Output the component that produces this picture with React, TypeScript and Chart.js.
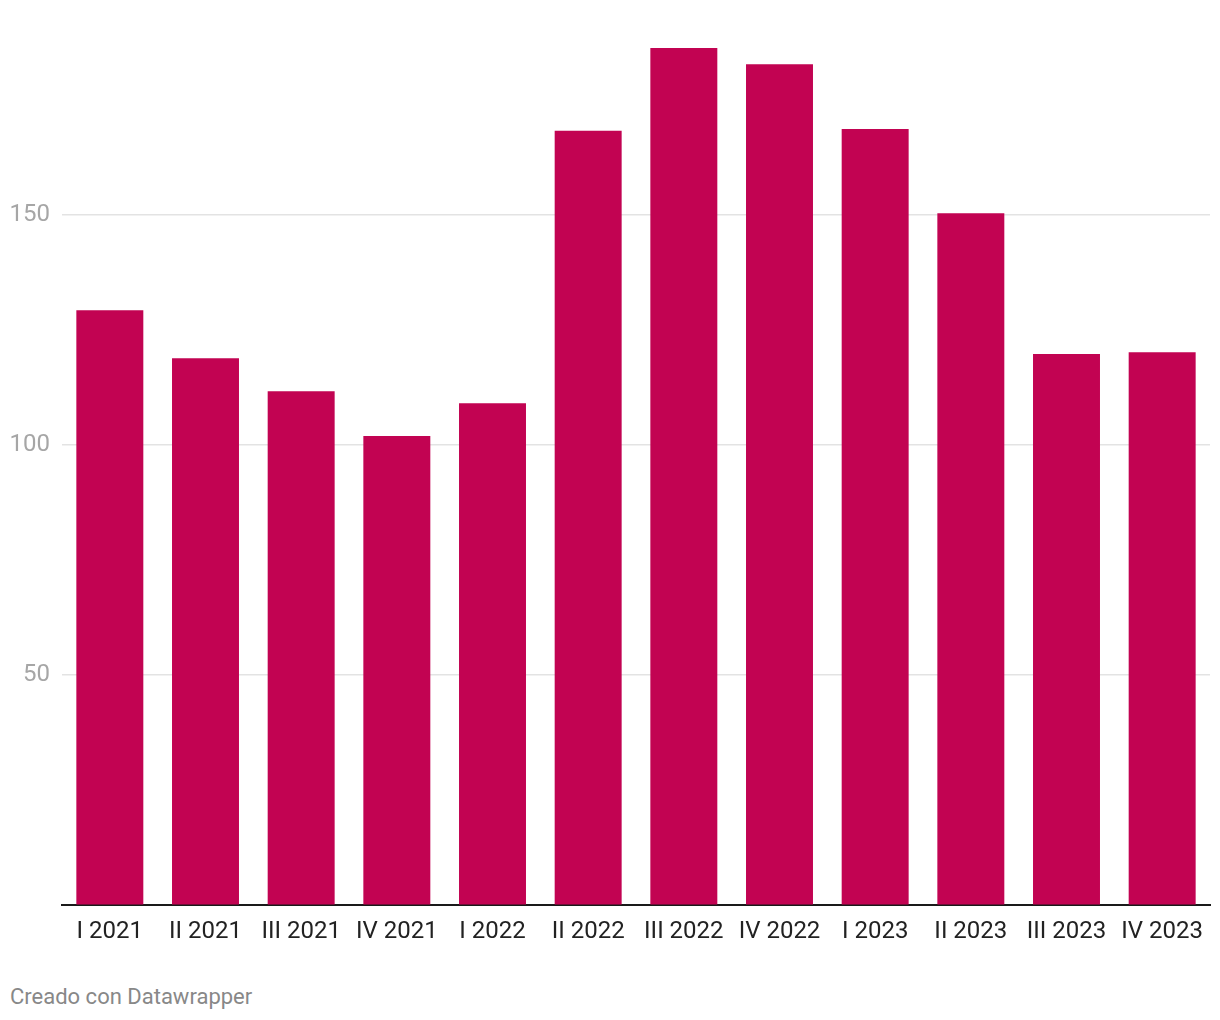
import React, { useEffect, useRef } from "react";
import { Chart, registerables } from "chart.js";

Chart.register(...registerables);

const categories = [
  "I 2021", "II 2021", "III 2021", "IV 2021",
  "I 2022", "II 2022", "III 2022", "IV 2022",
  "I 2023", "II 2023", "III 2023", "IV 2023",
];
const values = [129.3, 118.9, 111.7, 102.0, 109.1, 168.3, 186.3, 182.8, 168.7, 150.4, 119.8, 120.2];
const yTicks = [0, 50, 100, 150];
const footerText = "Creado con Datawrapper";

export default function App() {
  const canvasRef = useRef<HTMLCanvasElement | null>(null);

  useEffect(() => {
    const canvas = canvasRef.current;
    if (!canvas) return;
    const chart = new Chart(canvas, {
      type: "bar",
      data: {
        labels: categories,
        datasets: [
          {
            data: values,
            backgroundColor: "#c20352",
            borderWidth: 0,
            categoryPercentage: 1,
            barPercentage: 0.7,
          },
        ],
      },
      options: {
        animation: false,
        responsive: false,
        maintainAspectRatio: false,
        layout: { padding: { top: 8, right: 10, left: 0, bottom: 0 } },
        plugins: {
          legend: { display: false },
          tooltip: { enabled: false },
        },
        scales: {
          x: {
            grid: { display: false, drawTicks: false },
            border: { display: true, color: "#1a1a1a", width: 2 },
            ticks: {
              color: "#222222",
              font: { family: "Roboto", size: 24 },
              padding: 12,
              maxRotation: 0,
              autoSkip: false,
            },
          },
          y: {
            min: 0,
            max: 195,
            afterBuildTicks: (axis: any) => {
              axis.ticks = yTicks.map((v) => ({ value: v }));
            },
            afterFit: (axis: any) => {
              axis.width = 62;
              axis.paddingTop = 0;
              axis.paddingBottom = 0;
            },
            border: { display: false },
            grid: {
              drawTicks: false,
              lineWidth: 1.5,
              color: (ctx: any) => (ctx.tick && ctx.tick.value === 0 ? "rgba(0,0,0,0)" : "#e3e3e3"),
            },
            ticks: {
              color: "#a6a6a6",
              font: { family: "Roboto", size: 24 },
              padding: 12,
              callback: (v: any) => (Number(v) === 0 ? "" : String(v)),
            },
          },
        },
      },
    });
    return () => chart.destroy();
  }, []);

  return (
    <div style={{ position: "absolute", left: 0, top: 0, width: 1220, height: 1020, background: "#fff" }}>
      <canvas ref={canvasRef} width={1220} height={958} style={{ display: "block" }} />
      <div
        style={{
          position: "absolute",
          left: 10,
          top: 983,
          fontFamily: "Roboto",
          fontSize: 22,
          color: "#888888",
          lineHeight: "28px",
        }}
      >
        {footerText}
      </div>
    </div>
  );
}
